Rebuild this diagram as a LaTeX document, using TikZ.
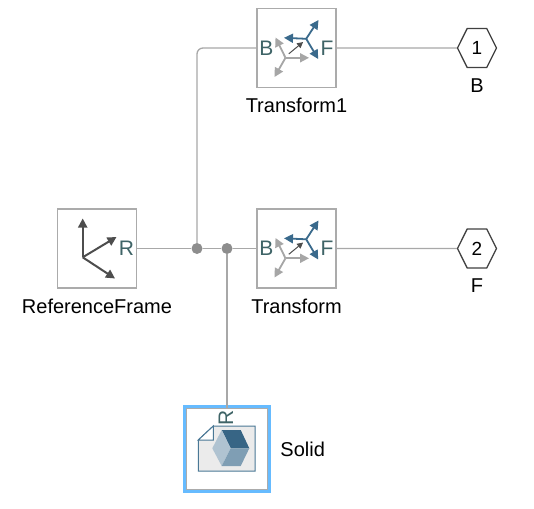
\documentclass[tikz,border=0pt]{standalone}
\usepackage{fontspec}
\setmainfont{Liberation Sans}
\usetikzlibrary{shapes.symbols,arrows.meta,positioning}
\definecolor{wire}{HTML}{A8A8A8}
\definecolor{blockline}{HTML}{ABABAB}
\definecolor{portink}{HTML}{3F6467}
\definecolor{axisblue}{HTML}{3A6A8C}
\definecolor{axisgray}{HTML}{A6A6A6}
\definecolor{axisdark}{HTML}{4D4D4D}
\definecolor{docline}{HTML}{4A7896}
\definecolor{selected}{HTML}{66BBFF}

\begin{document}
\begin{tikzpicture}[x=1pt,y=-1pt]

  \tikzset{main block/.style={rectangle, draw=blockline, line width=1.5pt, fill=white,
  		minimum size=79pt, inner sep=0pt}, }
  \tikzset{main label/.style={font=\fontsize{20}{22}\selectfont, inner sep=0pt}, }
  \tikzset{port name/.style={font=\fontsize{21}{22}\selectfont, text=portink, inner sep=0pt}, }
  \tikzset{out port/.style={signal, signal to=east and west, signal pointer angle=127,
  		draw=black!75, line width=1.3pt, fill=white, line join=round,
  		minimum width=39pt, minimum height=39pt, inner sep=0pt,
  		font=\fontsize{19}{22}\selectfont}, }
  \tikzset{junction/.style={circle, fill=axisgray!85!black, minimum size=11pt, inner sep=0pt}, }
  \tikzset{linea/.style={draw=wire, line width=1.3pt}, }
  \tikzset{axis/.style={-{Triangle[length=9pt,width=9pt]}, line width=1.8pt}, }
  \useasboundingbox (0,0) rectangle (534,508);

    \node[main block] (refframe) at (97,248.5) {};
    \node[main block] (transform) [right =119pt of refframe] {};
    \node[main block] (transform1) [above =120pt of transform] {};
    \node[out port] (port1) [right =120pt of transform1] {1};
    \node[out port] (port2) [right =120pt of transform] {2};
    \node[junction] (j1) at (197,248.5) {};
    \node[junction] (j2) at (227,248.5) {};
    \node[rectangle, fill=selected, minimum size=88.5pt, inner sep=0pt] (halo) at (227,449) {};
    \node[main block, minimum size=81pt] (solid) at (227,449) {};
%
    \node[main label] (l1) [below =10pt of transform1] {Transform1};
    \node[main label] (l2) [below =10pt of transform] {Transform};
    \node[main label] (l3) [below =10pt of refframe] {ReferenceFrame};
    \node[main label] (l4) [right =12pt of solid] {Solid};
    \node[main label] (l5) [below =10pt of port1] {B};
    \node[main label] (l6) [below =10pt of port2] {F};
%
    \node[port name, anchor=west] (b1) at ([xshift=3pt]transform1.west) {B};
    \node[port name, anchor=east] (f1) at ([xshift=-3pt]transform1.east) {F};
    \node[port name, anchor=west] (b2) at ([xshift=3pt]transform.west) {B};
    \node[port name, anchor=east] (f2) at ([xshift=-3pt]transform.east) {F};
    \node[port name, anchor=east] (r1) at ([xshift=-3pt]refframe.east) {R};
    \node[port name, rotate=90] (r2) at (226,418) {R};
%
\foreach \x /\y in{refframe/j1,j1/j2,j2/transform,transform1/port1,transform/port2,j2/solid}
  \draw[linea] (\x) -- (\y);
  \draw[linea, rounded corners=6pt] (j1) |- (transform1);
%
\foreach \b in{transform1,transform}
{
  \begin{scope}[shift={(\b.center)}]
    \foreach \xe /\ye in{-21/-10.5,12.5/9.8,-22/29}
      \draw[axis, axisgray] (-11,9.8) -- (\xe,\ye);
    \foreach \xe /\ye in{22/-28,-12.5/-10.2,21.7/11}
      \draw[axis, axisblue] (9.7,-9.2) -- (\xe,\ye);
    \draw[axisdark, line width=1pt, -{Triangle[length=6pt,width=6pt]}] (-7.7,5.8) -- (6.6,-6);
  \end{scope}
}
%
\begin{scope}[shift={(refframe.center)}]
  \foreach \xe /\ye in{-14.3/-30,19.5/-11.5,18/30}
    \draw[axis, axisdark, line width=2pt] (-14.3,8.8) -- (\xe,\ye);
\end{scope}
%
  \draw[docline, fill=black!8, line width=1pt] (198.3,440) -- (213.3,426) -- (255,426) -- (255,471) -- (198.3,471) -- cycle;
  \draw[docline, fill=white, line width=1pt] (198.3,440) -- (213.3,426) -- (213.3,440) -- cycle;
  \fill[axisblue!95!black] (221.7,430) -- (240.7,430) -- (249.3,448.3) -- (230.7,448.3) -- cycle;
  \fill[axisblue!40!white] (221.7,430) -- (230.7,448.3) -- (221.7,466) -- (212.3,448.3) -- cycle;
  \fill[axisblue!65!white] (230.7,448.3) -- (249.3,448.3) -- (240.7,466) -- (221.7,466) -- cycle;
%
\end{tikzpicture}
\end{document}
